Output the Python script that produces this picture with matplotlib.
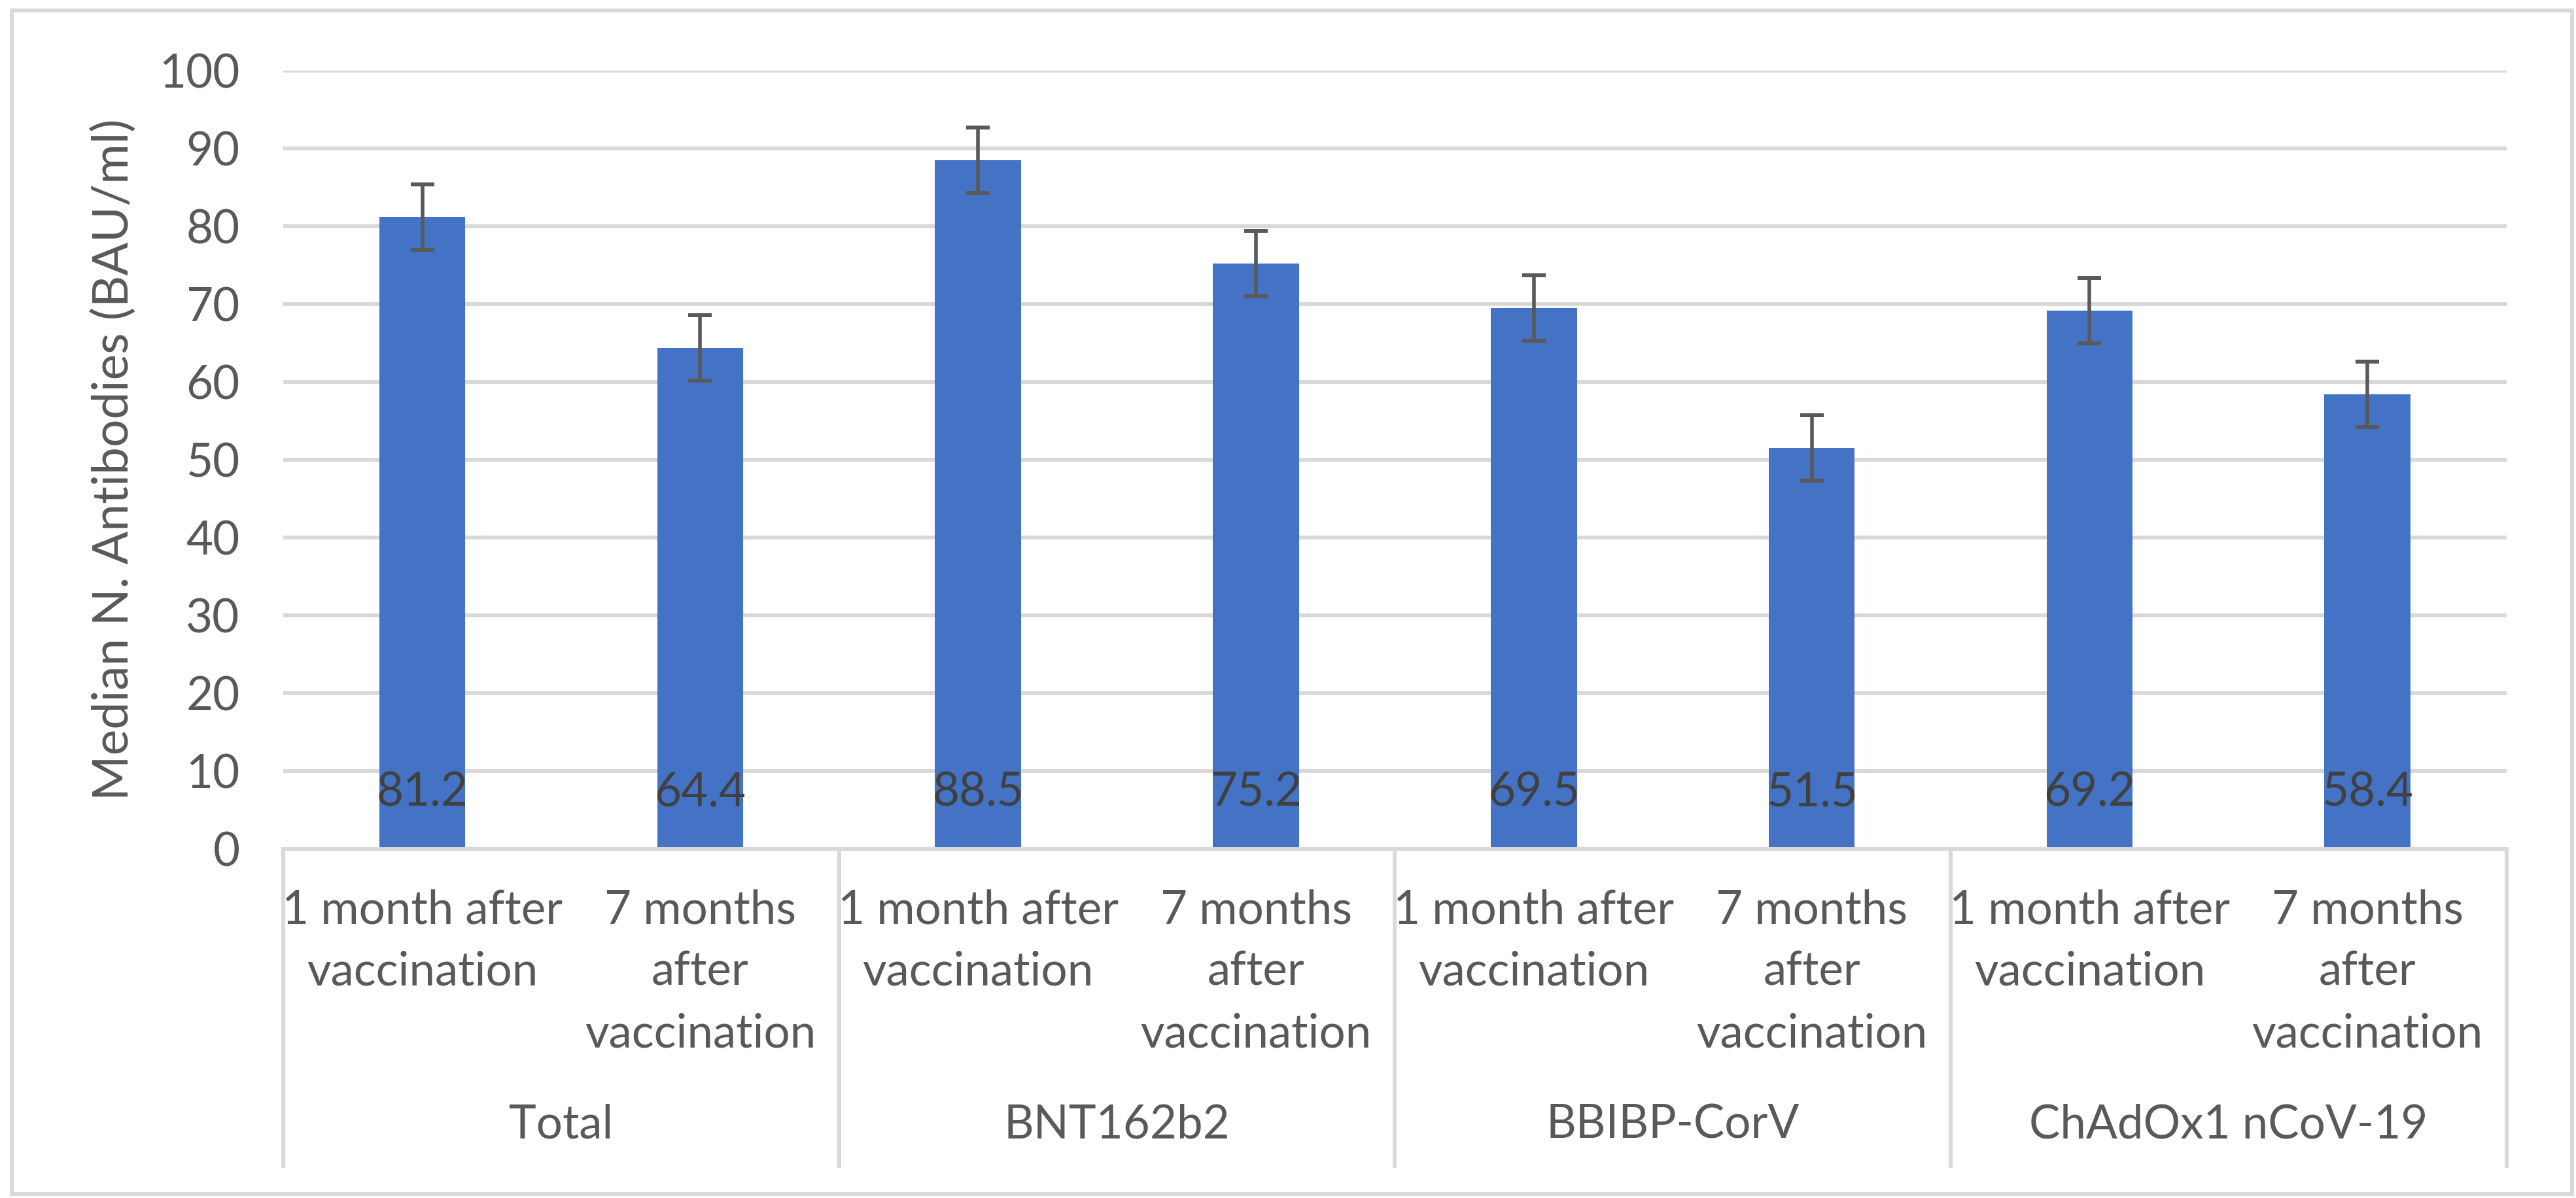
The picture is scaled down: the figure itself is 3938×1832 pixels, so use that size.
import matplotlib.pyplot as plt
from matplotlib.patches import Rectangle
import numpy as np

# Data
groups = ["Total", "BNT162b2", "BBIBP-CorV", "ChAdOx1 nCoV-19"]
timepoints = ["1 month after\nvaccination", "7 months\nafter\nvaccination"]
medians = [81.2, 64.4, 88.5, 75.2, 69.5, 51.5, 69.2, 58.4]
errors = [4.2, 4.2, 4.2, 4.2, 4.2, 4.2, 4.2, 4.2]
yticks = [0, 10, 20, 30, 40, 50, 60, 70, 80, 90, 100]

BAR_COLOR = '#4472C4'
GRID = '#D9D9D9'
TEXT = '#595959'
LABEL = '#404040'
FS = 51

plt.rcParams['font.family'] = ['Lato', 'DejaVu Sans']

fig = plt.figure(figsize=(39.38, 18.32), dpi=100)
ax = fig.add_axes([0.110, 0.2915, 0.863, 0.6495])

x = np.arange(len(medians))
ax.bar(x, medians, width=0.31, color=BAR_COLOR, zorder=2)
ax.errorbar(x, medians, yerr=errors, fmt='none', ecolor=TEXT,
            elinewidth=4, capsize=13, capthick=4.3, zorder=3)

# value labels at the inside base of each bar
for xi, v in zip(x, medians):
    ax.text(xi, 7.2, f'{v:.1f}', ha='center', va='center',
            fontsize=FS, color=LABEL, zorder=4)

ax.set_xlim(-0.5, len(medians) - 0.5)
ax.set_ylim(0, 100)
ax.set_yticks(yticks)
ax.tick_params(axis='y', length=0, pad=48, labelsize=FS, labelcolor=TEXT)
ax.set_xticks([])
ax.yaxis.grid(True, color=GRID, lw=4.3, zorder=0)
ax.set_axisbelow(True)
for s in ['top', 'right', 'left']:
    ax.spines[s].set_visible(False)
ax.spines['bottom'].set_color(GRID)
ax.spines['bottom'].set_linewidth(4.3)

ax.set_ylabel('Median N. Antibodies (BAU/ml)', fontsize=54, color=TEXT)
ax.yaxis.set_label_coords(-0.066, 0.5)

# multi-level category axis
trans = ax.get_xaxis_transform()
n_per = len(timepoints)
for g in range(len(groups) + 1):
    xb = g * n_per - 0.5
    ax.plot([xb, xb], [0, -0.41], transform=trans, color=GRID, lw=4.3,
            clip_on=False, solid_capstyle='butt')
for i, xi in enumerate(x):
    ax.text(xi, -0.052, timepoints[i % n_per], transform=trans, ha='center',
            va='top', fontsize=FS, color=TEXT, linespacing=1.55)
for g, name in enumerate(groups):
    ax.text(g * n_per + (n_per - 1) / 2, -0.355, name, transform=trans,
            ha='center', va='center', fontsize=FS, color=TEXT)

# chart area border
fig.patches.append(Rectangle((0.0046, 0.0035), 0.994, 0.9875, transform=fig.transFigure,
                             fill=False, edgecolor=GRID, lw=4.3))

fig.savefig('out.png', dpi=100, facecolor='white')
